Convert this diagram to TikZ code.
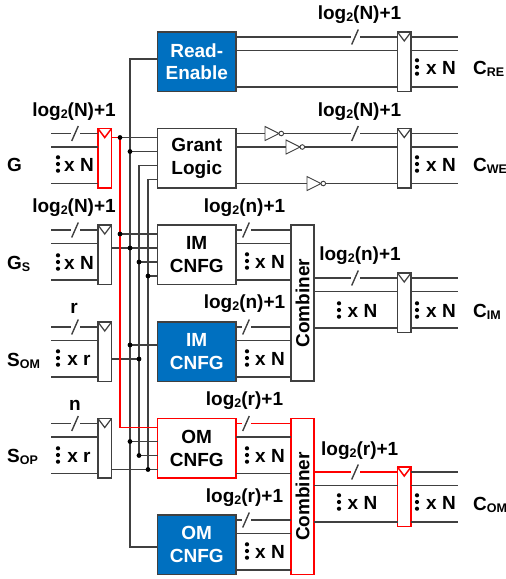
\documentclass[tikz,border=0pt]{standalone}
\usepackage{fontspec}
\setmainfont{Liberation Sans}
\usetikzlibrary{calc,shapes.geometric}
\definecolor{cellblue}{RGB}{0,112,192}
\definecolor{failred}{RGB}{255,0,0}
\definecolor{wiregray}{RGB}{64,64,64}
\newcommand{\lowtxt}[1]{\raisebox{-0.22ex}{\fontsize{12.5}{12.5}\selectfont #1}}
\newcommand{\logN}{log\lowtxt{2}(N)+1}
\newcommand{\logn}{log\lowtxt{2}(n)+1}
\newcommand{\logr}{log\lowtxt{2}(r)+1}
\tikzset{
  wire/.style={draw=wiregray,line width=1.2pt},
  redwire/.style={draw=failred,line width=1.5pt},
  cellbox/.style={draw=wiregray,line width=1.2pt,minimum width=78.5pt,minimum height=59.5pt,anchor=north west,outer sep=0pt,inner sep=0pt,align=center,font=\fontsize{19}{22.7}\selectfont\bfseries},
  bluebox/.style={cellbox,fill=cellblue,text=white},
  combbox/.style={draw=wiregray,line width=1.2pt,minimum width=23pt,minimum height=156pt,anchor=north west,outer sep=0pt,inner sep=0pt},
  regbox/.style={draw=wiregray,line width=1.2pt,fill=white,minimum width=13.5pt,minimum height=59.5pt,anchor=north west,outer sep=0pt,inner sep=0pt},
  lab/.style={anchor=base,inner sep=0pt,font=\fontsize{19}{19}\selectfont\bfseries},
  sidelab/.style={lab,anchor=base west},
  invtri/.style={isosceles triangle,isosceles triangle stretches,draw=wiregray,line width=0.9pt,fill=white,minimum width=14pt,minimum height=14pt,inner sep=0pt,outer sep=0pt,anchor=west},
  invdot/.style={circle,draw=wiregray,line width=0.9pt,fill=white,minimum size=4.6pt,inner sep=0pt,outer sep=0pt,anchor=west}
}
\begin{document}
\begin{tikzpicture}[x=1pt,y=-1pt]
\useasboundingbox (0,0) rectangle (506,579);
\node[bluebox] (re) at (157.5,32) {Read-\\Enable};
\node[cellbox] (gl) at (157.5,128.5) {Grant\\Logic};
\node[cellbox] (imA) at (157.5,225) {IM\\CNFG};
\node[bluebox] (imB) at (157.5,322) {IM\\CNFG};
\node[cellbox,draw=failred,line width=1.5pt] (omA) at (157.5,418.5) {OM\\CNFG};
\node[bluebox] (omB) at (157.5,515) {OM\\CNFG};
\node[combbox] (cmbA) at (291,225) {};
\node[combbox,draw=failred,line width=1.5pt] (cmbB) at (291,418.5) {};
\node[lab,rotate=90,anchor=center] (cmbAt) at (cmbA) {Combiner};
\node[lab,rotate=90,anchor=center] (cmbBt) at (cmbB) {Combiner};
\foreach \reg/\y in {rG/128.5,rGs/225,rSom/322,rSop/418.5}{\node[regbox] (\reg) at (98,\y) {};}
\foreach \reg/\y in {rRe/32,rGl/128.5,rIm/273,rOm/467}{\node[regbox] (\reg) at (397.5,\y) {};}
\foreach \reg in {rG,rOm}{\draw[redwire] (\reg.north west) rectangle (\reg.south east);}
\coordinate (busR) at (120,0);
\coordinate (busS) at (130,0);
\coordinate (busA) at (139,0);
\coordinate (busB) at (148,0);
\foreach \key in {re,gl,imA,imB,omA,omB,rIm,rOm,rG,rGs,rSom,rSop,rRe,rGl}{\foreach \w/\dy in {a/5,b/18.5,c/55}{\coordinate (\key\w) at ($(\key.north west)+(0,\dy)$);}}
\foreach \key in {gl,imA,imB,omA}{\foreach \w/\dy in {p/9,q/23,s/37,t/51}{\coordinate (\key\w) at ($(\key.north west)+(0,\dy)$);}}
\coordinate (reIn) at ($(re.north west)+(0,27)$);
\coordinate (omBIn) at ($(omB.north west)+(0,32)$);
\foreach \reg in {rG,rGs,rSom,rSop}{\foreach \w in {a,b,c}{\coordinate (in\reg\w) at ($(\reg\w)+(-47,0)$);\draw[wire] (in\reg\w) -- (\reg\w);}}
\foreach \reg in {rRe,rGl,rIm,rOm}{\foreach \w in {a,b,c}{\coordinate (out\reg\w) at ($(\reg\w)+(60.5,0)$);\draw[wire] (\reg\w -| \reg.east) -- (out\reg\w);}}
\foreach \key/\src/\dst in {re/re/rRe,gl/gl/rGl,imA/imA/cmbA,imB/imB/cmbA,omA/omA/cmbB,omB/omB/cmbB,rIm/cmbA/rIm,rOm/cmbB/rOm}{\foreach \w in {a,b,c}{\draw[wire] (\key\w -| \src.east) -- (\key\w -| \dst.west);}}
\draw[redwire] (omAa -| omA.east) -- (omAa -| cmbB.west);
\draw[redwire] (rOma -| cmbB.east) -- (rOma);
\draw[wire] (reIn) -- (busS |- reIn) -- (busS |- omBIn) -- (omBIn);
\draw[wire] (glq) -- (busS |- glq);
\draw[wire] (gls) -- (busA |- gls) -- (busA |- omAs) -- (omAs);
\draw[wire] (glt) -- (busB |- glt) -- (busB |- omAt) -- (omAt);
\draw[wire] (rGs.east |- imAq) -- (imAq);
\draw[wire] (rSom.east |- imBs) -- (busA |- imBs);
\draw[wire] (rSop.east |- omAt) -- (omAt);
\foreach \bus/\key in {busR/glp,busR/imAp,busS/imBq,busS/omAq,busA/imAs,busB/imAt}{\draw[wire] (\bus |- \key) -- (\key);}
\draw[redwire] (rG.east |- glp) -- (busR |- glp) -- (busR |- omAp) -- (omAp);
\foreach \bus/\key in {busR/glp,busR/imAp,busS/glq,busS/imAq,busS/imBq,busS/omAq,busA/imAs,busA/imBs,busA/omAs,busB/imAt,busB/omAt}{\fill[black] (\bus |- \key) circle (2.4);}
\foreach \reg/\col in {rG/redwire,rGs/wire,rSom/wire,rSop/wire,rRe/wire,rGl/wire,rIm/wire,rOm/redwire}{\draw[\col] (\reg.north west) -- ($(\reg.north)+(0,9)$) -- (\reg.north east);}
\foreach \x/\y in {75/133.5,75/230,75/327,75/423.5,246/230,246/327,246/423.5,246/520,355/37,355/133.5,355/278,355/472}{\fill[white] (\x-4.5,\y-2) rectangle (\x+4.5,\y+2);\draw[wire,line width=1.4pt] (\x-3.3,\y+7.5) -- (\x+3.3,\y-7.5);}
\node[invtri] (invA) at (265,133.5) {};
\node[invdot] (dotA) at (invA.east) {};
\node[invtri] (invB) at (286,147) {};
\node[invdot] (dotB) at (invB.east) {};
\node[invtri] (invC) at (307,183.5) {};
\node[invdot] (dotC) at (invC.east) {};
\foreach \x/\y/\t [count=\i] in {74/116/\logN,74/212/\logN,74/313/r,75/410/n,359.5/19/\logN,359.5/116/\logN,244.5/212/\logn,244.5/308/\logn,360/260/\logn,244.5/405.7/\logr,244.5/502/\logr,359.7/455/\logr}{\node[lab] (bits\i) at (\x,\y) {\t};}
\foreach \dx/\tx/\y/\t [count=\i] in {58/79/171/N,58/79/269/N,58/79/365/r,58/79/462/r,247/270/268/N,247/270/365/N,247/270/462/N,247/270/558/N,339/362.5/317/N,339/362.5/509/N,417/441/74/N,417/441/171/N,417/441/317/N,417/441/509/N}{\node[lab] (mult\i) at (\tx,\y) {x \t};\foreach \o in {-13.7,-7,-0.3}{\fill[black] (\dx,\y+\o) circle (2.1);}}
\node[sidelab] (sigG) at (7,171) {G};
\node[sidelab] (sigGs) at (7,269) {G\lowtxt{S}};
\node[sidelab] (sigSom) at (7,366) {S\lowtxt{OM}};
\node[sidelab] (sigSop) at (7,462) {S\lowtxt{OP}};
\node[sidelab] (sigRe) at (473,74) {C\lowtxt{RE}};
\node[sidelab] (sigWe) at (473,171) {C\lowtxt{WE}};
\node[sidelab] (sigIm) at (473,317) {C\lowtxt{IM}};
\node[sidelab] (sigOm) at (473,510) {C\lowtxt{OM}};
\end{tikzpicture}
\end{document}
